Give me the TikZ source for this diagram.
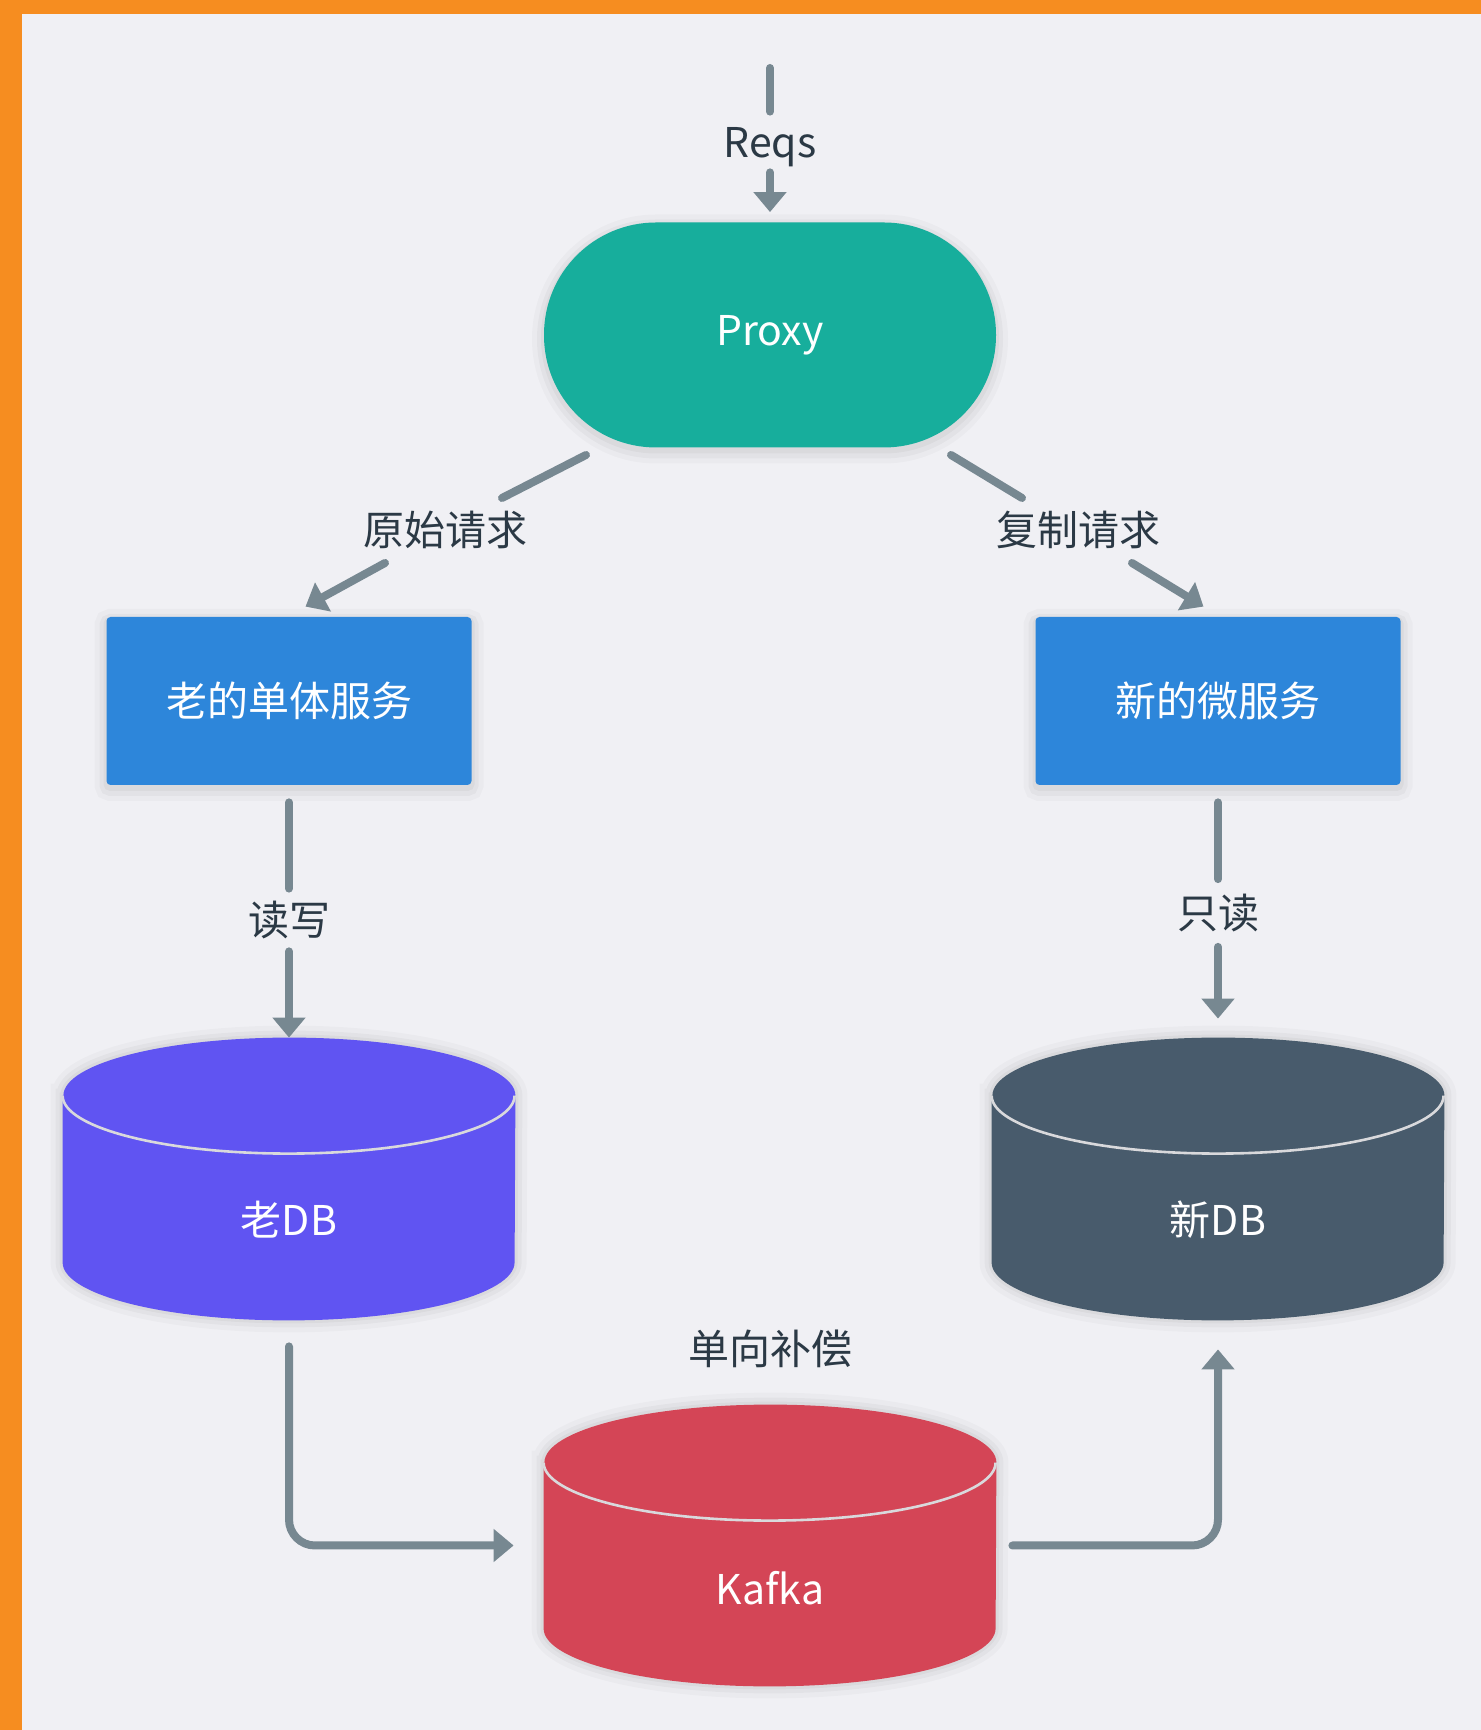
\documentclass[tikz,border=0pt]{standalone}
\usepackage{fontspec}
\setmainfont{Noto Sans CJK SC}
\usetikzlibrary{arrows.meta,calc,positioning}
\definecolor{bgc}{HTML}{F0F0F4}
\definecolor{orangec}{HTML}{F68D20}
\definecolor{tealc}{HTML}{17AE9C}
\definecolor{bluec}{HTML}{2D86DA}
\definecolor{purplec}{HTML}{6054F2}
\definecolor{slatec}{HTML}{485B6C}
\definecolor{redc}{HTML}{D44556}
\definecolor{greyc}{HTML}{778891}
\definecolor{txtc}{HTML}{2B3945}
\definecolor{sepc}{HTML}{D9D9DC}
\tikzset{
  x=0.5pt, y=0.5pt,
  every node/.style={font=\fontsize{20.5pt}{24pt}\selectfont},
  conn/.style={draw=greyc, line width=4pt, line cap=round, line join=round},
  arr/.style={conn, -{Triangle[length=10pt,width=16pt]}},
  lbl/.style={text=txtc, inner sep=0pt},
  softshadow/.style={
    preaction={draw=black, draw opacity=0.025, line width=12pt, transform canvas={yshift=-2pt}},
    preaction={draw=black, draw opacity=0.03, line width=7pt, transform canvas={yshift=-2pt}},
    preaction={draw=black, draw opacity=0.035, line width=3pt, transform canvas={yshift=-1.5pt}}},
  proxybox/.style={softshadow, fill=tealc, text=white, rounded corners=56pt, minimum width=226pt, minimum height=112.5pt, inner sep=0pt},
  svcbox/.style={softshadow, fill=bluec, text=white, rounded corners=2pt, minimum width=182.5pt, minimum height=84pt, inner sep=0pt},
  dbbox/.style={draw=none, fill=none, minimum width=226pt, minimum height=141pt, inner sep=0pt},
  dbtext/.style={text=white, inner sep=0pt},
  sepline/.style={draw=sepc, line width=1.3pt}
}
\newcommand{\mycylpath}[1]{([yshift=-29pt]#1.north west) -- ([yshift=29pt]#1.south west)
     arc[start angle=180, end angle=360, x radius=113pt, y radius=29pt]
     -- ([yshift=-29pt]#1.north east)
     arc[start angle=0, end angle=180, x radius=113pt, y radius=29pt] -- cycle}
\newcommand{\mycyl}[2]{%
  \path[draw=black, draw opacity=0.025, line width=12pt, yshift=-2pt] \mycylpath{#1};
  \path[draw=black, draw opacity=0.03, line width=7pt, yshift=-2pt] \mycylpath{#1};
  \path[draw=black, draw opacity=0.035, line width=3pt, yshift=-1.5pt] \mycylpath{#1};
  \fill[#2] \mycylpath{#1};
  \draw[sepline] ([yshift=-29pt]#1.north west)
     arc[start angle=180, end angle=360, x radius=113pt, y radius=29pt];
}
\begin{document}
\begin{tikzpicture}
\useasboundingbox (0,0) rectangle (1481,1730);
\fill[bgc] (0,0) rectangle (1481,1730);
\fill[orangec] (0,0) rectangle (22,1730);
\fill[orangec] (0,1716) rectangle (1481,1730);

% nodes
\coordinate (reqsin) at (770,1662);
\node[lbl, minimum height=30pt, text depth=0pt] (reqs) at (770,1588) {Reqs};
\node[proxybox] (proxy) at (770,1395) {Proxy};
\node[lbl] (lab1) at (445,1200) {原始请求};
\node[lbl] (lab2) at (1078,1200) {复制请求};
\node[svcbox] (box1) at (289,1029) {老的单体服务};
\node[svcbox] (box2) at (1218,1029) {新的微服务};
\node[lbl, minimum height=31pt] (lab3) at (289,810) {读写};
\node[lbl, minimum height=33.5pt] (lab4) at (1218,817) {只读};
\node[dbbox] (olddb) at (289,551) {};
\node[dbbox] (newdb) at (1218,551) {};
\node[dbbox, minimum height=140.5pt] (kafka) at (770,184.5) {};
\node[lbl] (lab5) at (770,381) {单向补偿};

\mycyl{olddb}{purplec}
\mycyl{newdb}{slatec}
\mycyl{kafka}{redc}
\node[dbtext] (olddbt) at ([yshift=-20.5pt]olddb.center) {老DB};
\node[dbtext] (newdbt) at ([yshift=-20.5pt]newdb.center) {新DB};
\node[dbtext] (kafkat) at ([yshift=-21.5pt]kafka.center) {Kafka};

% connectors
\draw[conn] (reqsin) -- (reqs.north);
\draw[arr, shorten >=5pt] (reqs.south) -- (proxy.north);

\draw[conn] ([shift={(-184,-120)}]proxy.center) -- ([shift={(57,32)}]lab1.center);
\draw[arr] ([shift={(-60,-33)}]lab1.center) -- ([shift={(16.5,10)}]box1.north);
\draw[conn] ([shift={(181,-120)}]proxy.center) -- ([shift={(-56,32)}]lab2.center);
\draw[arr] ([shift={(54,-33)}]lab2.center) -- ([shift={(-14.5,10)}]box2.north);

\draw[conn, shorten <=8.5pt] (box1.south) -- (lab3.north);
\draw[arr] (lab3.south) -- (olddb.north);
\draw[conn, shorten <=8.5pt] (box2.south) -- (lab4.north);
\draw[arr, shorten >=9.5pt] (lab4.south) -- (newdb.north);

\draw[arr, rounded corners=13pt, shorten <=13pt, shorten >=15pt] (olddb.south) |- (kafka.west);
\draw[arr, rounded corners=13pt, shorten <=8pt, shorten >=14.5pt] (kafka.east) -| (newdb.south);
\end{tikzpicture}
\end{document}
